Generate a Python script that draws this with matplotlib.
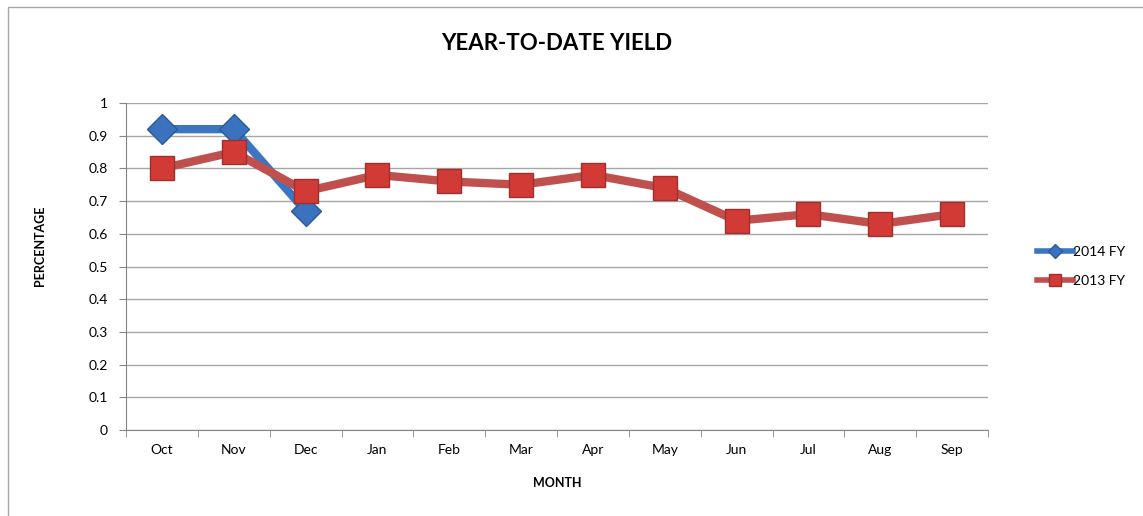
import numpy as np
import matplotlib.pyplot as plt
from matplotlib.patches import Rectangle

plt.rcParams['font.family'] = ['Lato', 'DejaVu Sans']

months = ['Oct', 'Nov', 'Dec', 'Jan', 'Feb', 'Mar', 'Apr', 'May', 'Jun', 'Jul', 'Aug', 'Sep']
fy2014 = [0.92, 0.92, 0.67]
fy2013 = [0.80, 0.85, 0.73, 0.78, 0.76, 0.75, 0.78, 0.74, 0.64, 0.66, 0.63, 0.66]
yticks = [0, 0.1, 0.2, 0.3, 0.4, 0.5, 0.6, 0.7, 0.8, 0.9, 1]

fig = plt.figure(figsize=(11.43, 5.16), dpi=100)
fig.patches.append(Rectangle((8 / 1143, -0.1), 1.2, 1 - 7 / 516 + 0.1, transform=fig.transFigure,
                             fill=False, edgecolor='#A6A6A6', linewidth=1))
ax = fig.add_axes([126 / 1143, 86 / 516, 862 / 1143, 327 / 516])

x = np.arange(len(months))
ax.plot(x[:len(fy2014)], fy2014, color='#3D76C0', linewidth=6, marker='D', markersize=15,
        markerfacecolor='#3A72BE', markeredgecolor='#2B5A9A', markeredgewidth=1,
        label='2014 FY', zorder=3)
ax.plot(x, fy2013, color='#C0504D', linewidth=6, marker='s', markersize=17,
        markerfacecolor='#D23A36', markeredgecolor='#9E2F2C', markeredgewidth=1,
        label='2013 FY', zorder=4)

ax.set_xlim(-0.5, len(months) - 0.5)
ax.set_ylim(0, 1)
ax.set_yticks(yticks)
ax.set_yticklabels([f'{v:g}' for v in yticks], fontsize=10)
ax.set_xticks(x)
ax.set_xticklabels(months, fontsize=10)
ax.tick_params(axis='x', length=0, pad=10)
ax.set_xticks(np.arange(-0.5, len(months), 1), minor=True)
ax.tick_params(axis='x', which='minor', length=5, color='#868686', direction='out')
ax.tick_params(axis='y', length=5, color='#868686', pad=8)

ax.grid(axis='y', color='#A6A6A6', linewidth=1)
ax.set_axisbelow(True)
for s in ['top', 'right']:
    ax.spines[s].set_visible(False)
for s in ['left', 'bottom']:
    ax.spines[s].set_color('#868686')

fig.text(557 / 1143, 1 - 44 / 516, 'YEAR-TO-DATE YIELD', ha='center', va='center',
         fontsize=16, fontweight='bold')
fig.text(557 / 1143, 1 - 483 / 516, 'MONTH', ha='center', va='center', fontsize=9, fontweight='bold')
fig.text(40 / 1143, 1 - 246 / 516, 'PERCENTAGE', ha='center', va='center', rotation=90,
         fontsize=9, fontweight='bold')

leg = ax.legend(loc='center left', bbox_to_anchor=(1.05, 0.5), frameon=False, fontsize=10,
                handlelength=2.6, markerscale=0.5, borderaxespad=0, labelspacing=1.2,
                handletextpad=0.05)
for line in leg.get_lines():
    line.set_linewidth(4)

fig.savefig('out.png', dpi=100)
